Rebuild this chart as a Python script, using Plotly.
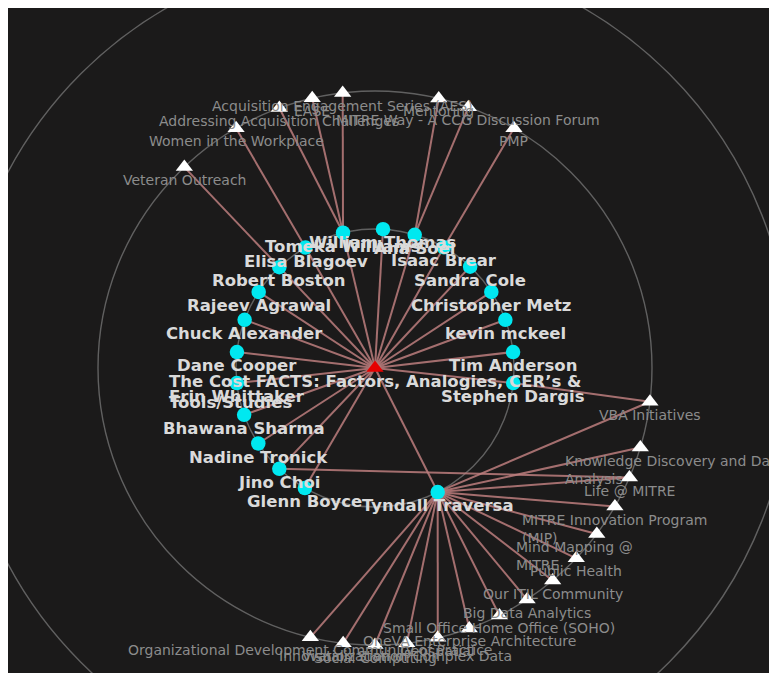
import math
import plotly.graph_objects as go

# ---------------- data ----------------
center_label = "The Cost FACTS: Factors, Analogies, CER’s &<br>Tools/Studies"

people = ["Tomeka Williams", "William Thomas", "Ana Soel", "Isaac Brear", "Sandra Cole",
          "Christopher Metz", "kevin mckeel", "Tim Anderson", "Stephen Dargis",
          "Tyndall Traversa", "Glenn Boyce", "Jino Choi", "Nadine Tronick",
          "Bhawana Sharma", "Erin Whittaker", "Dane Cooper", "Chuck Alexander",
          "Rajeev Agrawal", "Robert Boston", "Elisa Blagoev"]
people_angle = [103.3, 86.7, 73.4, 60.3, 46.8, 33.2, 20.3, 6.6, -6.2, -63.2,
                239.7, 226.5, 212.9, 199.7, 186.2, 173.4, 159.7, 146.8, 133.5, 120.0]

communities = ["Veteran Outreach", "Women in the Workplace",
               "Addressing Acquisition Challenges", "EASE",
               "Acquisition Engagement Series (AES)", "Mentoring",
               "MITRE Way - A CCG Discussion Forum", "PMP", "VBA Initiatives",
               "Knowledge Discovery and Data<br>Analysis", "Life @ MITRE",
               "MITRE Innovation Program<br>(MIP)", "Mind Mapping @<br>MITRE",
               "Public Health", "Our ITIL Community", "Big Data Analytics",
               "Small Office Home Office (SOHO)", "OneVA Enterprise Architecture",
               "Geospatial", "Visualization of Complex Data", "Social Computing",
               "Innovation Station", "Organizational Development Community of Practice"]
comm_angle = [133.5, 120.1, 110.2, 103.1, 96.7, 76.7, 70.3, 59.9, -7.0, -16.7, -23.3,
              -30.0, -36.8, -43.4, -50.1, -56.7, -63.3, -70.1, -76.9, -83.4, -90.0,
              -96.6, -103.5]

# person -> community memberships (besides the center community)
memberships = [
    ("Robert Boston", "Veteran Outreach"),
    ("Elisa Blagoev", "Women in the Workplace"),
    ("Tomeka Williams", "Addressing Acquisition Challenges"),
    ("Tomeka Williams", "EASE"),
    ("Tomeka Williams", "Acquisition Engagement Series (AES)"),
    ("Ana Soel", "Mentoring"),
    ("Ana Soel", "MITRE Way - A CCG Discussion Forum"),
    ("Isaac Brear", "PMP"),
    ("Stephen Dargis", "VBA Initiatives"),
    ("Jino Choi", "Life @ MITRE"),
]
tyndall_groups = ["VBA Initiatives", "Knowledge Discovery and Data<br>Analysis", "Life @ MITRE",
                  "MITRE Innovation Program<br>(MIP)", "Mind Mapping @<br>MITRE", "Public Health",
                  "Our ITIL Community", "Big Data Analytics", "Small Office Home Office (SOHO)",
                  "OneVA Enterprise Architecture", "Geospatial", "Visualization of Complex Data",
                  "Social Computing", "Innovation Station",
                  "Organizational Development Community of Practice"]

ring_radius = [139, 277, 416]

# label nudges for the wrapped labels (styling only)
label_xshift = {"Knowledge Discovery and Data<br>Analysis": 34, "Mind Mapping @<br>MITRE": -22}

# ---------------- layout of nodes ----------------
R_PEOPLE, R_COMM = ring_radius[0], ring_radius[1]
pos = {center_label: (0.0, 0.0)}
for n, a in zip(people, people_angle):
    pos[n] = (R_PEOPLE * math.cos(math.radians(a)), R_PEOPLE * math.sin(math.radians(a)))
for n, a in zip(communities, comm_angle):
    pos[n] = (R_COMM * math.cos(math.radians(a)), R_COMM * math.sin(math.radians(a)))

edges = [(center_label, p) for p in people] + memberships + \
        [("Tyndall Traversa", g) for g in tyndall_groups]

ex, ey = [], []
for a, b in edges:
    ex += [pos[a][0], pos[b][0], None]
    ey += [pos[a][1], pos[b][1], None]

BG = "#1b1a1a"
fig = go.Figure()

for r in ring_radius:
    fig.add_shape(type="circle", xref="x", yref="y", x0=-r, y0=-r, x1=r, y1=r,
                  line=dict(color="rgba(120,120,120,0.75)", width=1.4), layer="below")

fig.add_trace(go.Scatter(x=ex, y=ey, mode="lines",
                         line=dict(color="rgba(188,126,126,0.85)", width=2),
                         hoverinfo="skip"))

fig.add_trace(go.Scatter(x=[pos[c][0] for c in communities], y=[pos[c][1] for c in communities],
                         mode="markers", marker=dict(symbol="triangle-up", size=15, color="white"),
                         hoverinfo="skip"))
fig.add_trace(go.Scatter(x=[pos[p][0] for p in people], y=[pos[p][1] for p in people],
                         mode="markers", marker=dict(symbol="circle", size=14.5, color="#00e8f0"),
                         hoverinfo="skip"))
fig.add_trace(go.Scatter(x=[0], y=[0], mode="markers",
                         marker=dict(symbol="triangle-up", size=15, color="#e60000"),
                         hoverinfo="skip"))

annots = []
for c in communities:
    annots.append(dict(x=pos[c][0], y=pos[c][1], text=c, showarrow=False, xanchor="center",
                       yanchor="top", yshift=-3, xshift=label_xshift.get(c, 0), align="left",
                       font=dict(family="DejaVu Sans", size=14, color="#8c8c8c")))
for p in people + [center_label]:
    annots.append(dict(x=pos[p][0], y=pos[p][1], text=p, showarrow=False, xanchor="center",
                       yanchor="top", yshift=-2, align="left",
                       font=dict(family="DejaVu Sans", size=16.5, color="#dadada", weight="bold")))

fig.update_layout(
    width=777, height=673, margin=dict(l=0, r=0, t=0, b=0, pad=0),
    paper_bgcolor=BG, plot_bgcolor=BG, showlegend=False,
    xaxis=dict(range=[-367, 410], visible=False, fixedrange=True),
    yaxis=dict(range=[-313, 360], visible=False, fixedrange=True),
    annotations=annots,
)

fig.write_html("out.html", config={"displayModeBar": False})
